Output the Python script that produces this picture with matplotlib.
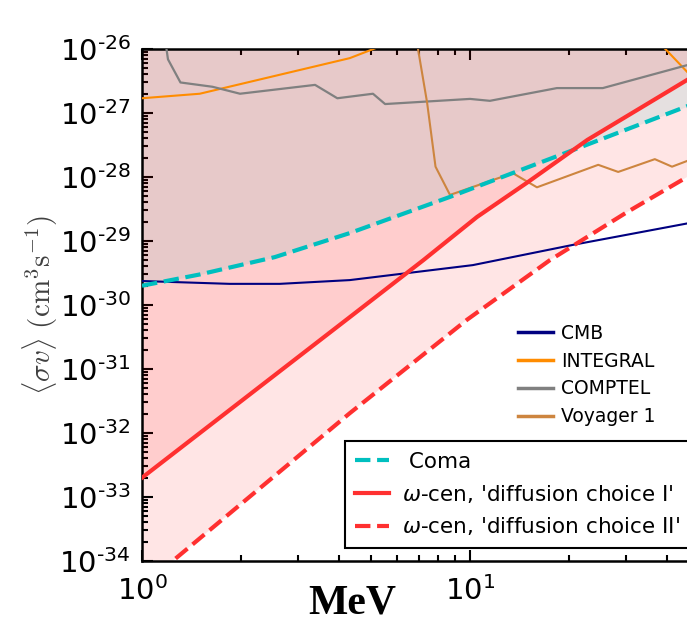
import numpy as np
import matplotlib.pyplot as plt
from matplotlib.ticker import FixedLocator, LogLocator, FuncFormatter, NullFormatter

# masses in MeV, cross sections in cm^3 s^-1
coma_m = [1.0, 1.5, 2.54, 4.3, 8.7, 20.6, 50.0]
coma_sv = [2.0e-30, 3.0e-30, 5.6e-30, 1.33e-29, 4.9e-29, 2.63e-28, 1.51e-27]

wcen1_m = [1.0, 4.3, 7.2, 10.5, 14.9, 22.8, 50.0]
wcen1_sv = [2.0e-33, 6.46e-31, 5.0e-30, 2.37e-29, 8.1e-29, 3.8e-28, 4.27e-27]

wcen2_m = [1.0, 1.24, 4.3, 9.8, 17.5, 30.1, 50.0]
wcen2_sv = [3.9e-35, 1.0e-34, 2.04e-32, 5.9e-31, 5.0e-30, 2.82e-29, 1.29e-28]

cmb_m = [1.0, 1.85, 2.63, 4.3, 10.2, 20.6, 50.0]
cmb_sv = [2.37e-30, 2.14e-30, 2.14e-30, 2.45e-30, 4.2e-30, 8.7e-30, 2.04e-29]

integral_m = [1.0, 1.5, 4.3, 5.2, 12.6, 31.6, 39.4, 45.9, 50.0]
integral_sv = [1.7e-27, 2.0e-27, 7.2e-27, 1.05e-26, 3.2e-26, 2.5e-26, 1.0e-26, 4.4e-27, 2.75e-27]

comptel_m = [1.18, 1.2, 1.31, 1.64, 1.99, 3.37, 3.94, 5.06, 5.51, 10.0, 11.5, 18.4, 25.4, 50.0]
comptel_sv = [1.26e-26, 6.9e-27, 3.0e-27, 2.57e-27, 2.0e-27, 2.75e-27, 1.7e-27,
              2.0e-27, 1.38e-27, 1.66e-27, 1.55e-27, 2.45e-27, 2.45e-27, 6.3e-27]

voyager_m = [6.89, 7.4, 7.85, 8.69, 13.5, 16.0, 24.6, 28.3, 36.6, 41.3, 45.9, 50.0]
voyager_sv = [1.26e-26, 1.45e-27, 1.45e-28, 5.25e-29, 1.15e-28, 6.9e-29, 1.55e-28,
              1.2e-28, 1.9e-28, 1.45e-28, 1.78e-28, 1.9e-28]

xticks = [1, 10]
yticks = [10.0 ** e for e in range(-34, -25)]

top = 1e-20

fig = plt.figure(figsize=(6.87, 6.24), dpi=100)
ax = fig.add_axes([142 / 687, 63 / 624, 656 / 687, 512 / 624])

# shaded regions: everything above the omega-cen lines, and the Coma exclusion
ax.fill_between(wcen2_m, wcen2_sv, top, color='red', alpha=0.1, lw=0, zorder=0)
ax.fill_between(coma_m, coma_sv, top, color='#e5e0e0', lw=0, zorder=1)
ax.fill_between(wcen1_m, wcen1_sv, top, color='red', alpha=0.1, lw=0, zorder=2)

l_cmb, = ax.plot(cmb_m, cmb_sv, color='navy', lw=1.5, label='CMB', zorder=3)
l_int, = ax.plot(integral_m, integral_sv, color='darkorange', lw=1.5, label='INTEGRAL', zorder=3)
l_comp, = ax.plot(comptel_m, comptel_sv, color='gray', lw=1.6, label='COMPTEL', zorder=3)
l_voy, = ax.plot(voyager_m, voyager_sv, color='peru', lw=1.5, label='Voyager 1', zorder=3)

l_coma, = ax.plot(coma_m, coma_sv, color='c', lw=3, ls='--', label=' Coma', zorder=4)
l_w1, = ax.plot(wcen1_m, wcen1_sv, color='#ff3030', lw=3, label=r"$\omega$-cen, 'diffusion choice I'", zorder=4)
l_w2, = ax.plot(wcen2_m, wcen2_sv, color='#ff3030', lw=3, ls='--', label=r"$\omega$-cen, 'diffusion choice II'", zorder=4)

ax.set_xscale('log')
ax.set_yscale('log')
ax.set_xlim(1, 100)
ax.set_ylim(1e-34, 1e-26)


def pow10(v, pos):
    e = int(round(np.log10(v)))
    if e < 0:
        return r'$10^{\text{-}%d}$' % (-e)
    return r'$10^{%d}$' % e


ax.xaxis.set_major_locator(FixedLocator(xticks))
ax.yaxis.set_major_locator(FixedLocator(yticks))
ax.xaxis.set_minor_locator(LogLocator(base=10, subs=np.arange(2, 10), numticks=20))
ax.yaxis.set_minor_locator(LogLocator(base=10, subs=np.arange(2, 10), numticks=20))
ax.xaxis.set_major_formatter(FuncFormatter(pow10))
ax.yaxis.set_major_formatter(FuncFormatter(pow10))
ax.xaxis.set_minor_formatter(NullFormatter())
ax.yaxis.set_minor_formatter(NullFormatter())

ax.tick_params(which='both', direction='in', top=True, right=True, width=1.5)
ax.tick_params(which='major', length=8, labelsize=21)
ax.tick_params(which='minor', length=4)
ax.tick_params(axis='y', which='major', pad=8)
ax.tick_params(axis='x', which='major', pad=11)
for s in ax.spines.values():
    s.set_linewidth(1.8)

fig.text(40 / 687, 1 - 305 / 624, r'$\langle \sigma v \rangle\ (\mathrm{cm}^3\mathrm{s}^{-1})$',
         rotation=90, ha='center', va='center', fontsize=21, color='0.25', math_fontfamily='cm')
fig.text(352 / 687, 1 - 603 / 624, 'MeV', ha='center', va='center', fontsize=30,
         fontweight='bold', family='Liberation Serif')

leg1 = ax.legend(handles=[l_cmb, l_int, l_comp, l_voy], loc='upper left',
                 bbox_to_anchor=(0.561, 0.478), borderaxespad=0, frameon=False,
                 fontsize=13.5, handlelength=1.87, handletextpad=0.43, labelspacing=0.47)
for h in leg1.get_lines():
    h.set_linewidth(2.5)
ax.add_artist(leg1)

leg2 = ax.legend(handles=[l_coma, l_w1, l_w2], loc='lower left',
                 bbox_to_anchor=(0.309, 0.025), borderaxespad=0, fancybox=False,
                 framealpha=1, edgecolor='k', fontsize=15.5, handlelength=1.58,
                 handletextpad=0.6, labelspacing=0.5, borderpad=0.5)
leg2.get_frame().set_linewidth(1.5)

fig.savefig('out.png', dpi=100)
